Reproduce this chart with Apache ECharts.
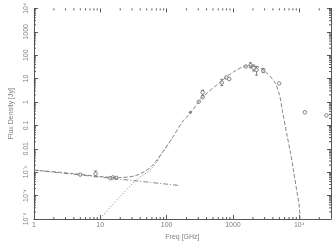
<!DOCTYPE html>
<html><head><meta charset="utf-8">
<script src="https://cdn.jsdelivr.net/npm/echarts@6/dist/echarts.min.js"></script>
<style>html,body{margin:0;padding:0;background:#fff}#c{width:332px;height:246px}</style>
</head><body><div id="c"></div>
<script>
// Axis tick labels
const xTickValues = [1, 10, 100, 1000, 10000];
const xTickLabels = ['1', '10', '100', '1000', '10\u2074'];
const yTickValues = [1e-5, 1e-4, 1e-3, 0.01, 0.1, 1, 10, 100, 1000, 1e4];
const yTickLabels = ['10\u207B\u2075', '10\u207B\u2074', '10\u207B\u00B3', '0.01', '0.1', '1', '10', '100', '1000', '10\u2074'];

// Observed points (GHz, Jy)
const obsFreq = [5.0, 8.5, 14.3, 15.5, 17.4, 305, 349, 349, 678, 795, 879, 1556, 1836, 2050, 2265, 2860, 4977, 12130, 25600];
const obsFlux = [7.9e-4, 8.5e-4, 5.5e-4, 6.0e-4, 5.7e-4, 1.03, 2.57, 1.6, 6.8, 11.1, 9.6, 32.8, 37, 28.5, 23.6, 21.9, 6.2, 0.364, 0.267];
// Filled point
const detFreq = [228];
const detFlux = [0.364];
// Error bars (GHz, low Jy, high Jy)
const errFreq = [8.5, 349, 678, 1836, 2050, 2265, 2860];
const errLow  = [6.4e-4, 1.9, 5.0, 29, 21, 14, 18];
const errHigh = [1.13e-3, 3.2, 9.3, 48, 38, 32, 27];

// Model curves
const totalFreq = [1, 3.7, 10.2, 19.6, 32, 42.5, 59, 87, 122, 180, 224, 340, 680, 1020, 1640, 2190, 3020, 4220, 5010, 5560, 6560, 7320, 8190, 9130, 9860, 10200, 10300];
const totalFlux = [1.23e-3, 8.9e-4, 6.5e-4, 5.9e-4, 6.8e-4, 9.3e-4, 1.74e-3, 7.2e-3, 0.0295, 0.166, 0.31, 1.5, 8, 19.5, 35, 34.4, 20.5, 7.3, 2.07, 0.43, 0.035, 7.2e-3, 1.1e-3, 1.65e-4, 4.7e-5, 1.3e-5, 5e-6];
const syncFreq = [1, 158];
const syncFlux = [1.23e-3, 2.7e-4];
const dustFreq = [10.07, 19.6, 35.5, 59, 87, 122];
const dustFlux = [1.1e-5, 8.7e-5, 4.9e-4, 1.38e-3, 6.9e-3, 0.029];

const X_MIN = 1, X_MAX = 30000, Y_MIN = 1e-5, Y_MAX = 1e4;
const AXIS = '#555', TXT = '#808080', LINE = '#858585', MARK = '#666';
const FONT = 'Liberation Sans';

// minor tick values (2..9 x 10^n), axis decoration
const xMinor = [], yMinor = [];
for (let n = 0; n <= 4; n++) for (let k = 2; k <= 9; k++) { const v = k * Math.pow(10, n); if (v < X_MAX) xMinor.push([v, 1]); }
for (let n = -5; n <= 3; n++) for (let k = 2; k <= 9; k++) { yMinor.push([1, k * Math.pow(10, n)]); }

function lab(values, labels) {
  return function (v) {
    const lv = Math.log10(v);
    for (let i = 0; i < values.length; i++) if (Math.abs(Math.log10(values[i]) - lv) < 0.01) return labels[i];
    return '';
  };
}
const zip = (a, b) => a.map((v, i) => [v, b[i]]);

const chart = echarts.init(document.getElementById('c'), null, { renderer: 'canvas' });
const baseTick = { show: true, inside: true, length: 4, lineStyle: { color: AXIS, width: 1 } };
chart.setOption({
  animation: false,
  backgroundColor: '#fff',
  grid: { left: 20, right: 1, top: 3.5, bottom: 23.5, containLabel: false },
  xAxis: [{
    type: 'log', logBase: 10, min: X_MIN, max: X_MAX, splitNumber: 5, position: 'bottom',
    axisLine: { show: true, onZero: false, lineStyle: { color: AXIS, width: 1 } },
    axisTick: baseTick,
    axisLabel: { show: true, margin: 3, fontSize: 7, color: TXT, fontFamily: FONT, formatter: lab(xTickValues, xTickLabels), showMaxLabel: false },
    splitLine: { show: false },
    name: 'Freq [GHz]', nameLocation: 'middle', nameGap: 15,
    nameTextStyle: { fontSize: 7, color: TXT, fontFamily: FONT }
  }, {
    type: 'log', logBase: 10, min: X_MIN, max: X_MAX, splitNumber: 5, position: 'top',
    axisLine: { show: false, onZero: false }, axisTick: baseTick, axisLabel: { show: false }, splitLine: { show: false }
  }],
  yAxis: [{
    type: 'log', logBase: 10, min: Y_MIN, max: Y_MAX, splitNumber: 9, position: 'left',
    axisLine: { show: true, onZero: false, lineStyle: { color: AXIS, width: 1 } },
    axisTick: baseTick,
    axisLabel: { show: true, rotate: 90, margin: 4, fontSize: 7, color: TXT, fontFamily: FONT, formatter: lab(yTickValues, yTickLabels) },
    splitLine: { show: false },
    name: 'Flux Density [Jy]', nameLocation: 'middle', nameGap: 12, nameRotate: 90,
    nameTextStyle: { fontSize: 7, color: TXT, fontFamily: FONT }
  }, {
    type: 'log', logBase: 10, min: Y_MIN, max: Y_MAX, splitNumber: 9, position: 'right',
    axisLine: { show: true, onZero: false, lineStyle: { color: AXIS, width: 1 } },
    axisTick: baseTick, axisLabel: { show: false }, splitLine: { show: false }
  }],
  series: [
    {
      type: 'custom', name: 'xminor', xAxisIndex: 0, yAxisIndex: 0, silent: true, clip: false,
      data: xMinor,
      renderItem: function (params, api) {
        const x = api.value(0);
        const pb = api.coord([x, Y_MIN]);
        const pt = api.coord([x, Y_MAX]);
        return { type: 'group', children: [
          { type: 'line', shape: { x1: pb[0], y1: pb[1], x2: pb[0], y2: pb[1] - 2 }, style: { stroke: AXIS, lineWidth: 1 } },
          { type: 'line', shape: { x1: pt[0], y1: pt[1], x2: pt[0], y2: pt[1] + 2 }, style: { stroke: AXIS, lineWidth: 1 } }
        ] };
      }
    },
    {
      type: 'custom', name: 'yminor', xAxisIndex: 0, yAxisIndex: 0, silent: true, clip: false,
      data: yMinor,
      renderItem: function (params, api) {
        const y = api.value(1);
        const pl = api.coord([X_MIN, y]);
        const pr = api.coord([X_MAX, y]);
        return { type: 'group', children: [
          { type: 'line', shape: { x1: pl[0], y1: pl[1], x2: pl[0] + 2, y2: pl[1] }, style: { stroke: AXIS, lineWidth: 1 } },
          { type: 'line', shape: { x1: pr[0], y1: pr[1], x2: pr[0] - 2, y2: pr[1] }, style: { stroke: AXIS, lineWidth: 1 } }
        ] };
      }
    },
    {
      type: 'line', name: 'total', data: zip(totalFreq, totalFlux), smooth: 0.3, symbol: 'none', clip: true,
      lineStyle: { color: LINE, width: 1, type: [4, 2] }
    },
    {
      type: 'line', name: 'sync', data: zip(syncFreq, syncFlux), symbol: 'none',
      lineStyle: { color: LINE, width: 1, type: [5, 2, 1, 2] }
    },
    {
      type: 'line', name: 'dust', data: zip(dustFreq, dustFlux), smooth: 0.3, symbol: 'none',
      lineStyle: { color: LINE, width: 1, type: [1, 2] }
    },
    {
      type: 'custom', name: 'err', silent: true,
      data: errFreq.map((f, i) => [f, errLow[i], errHigh[i]]),
      renderItem: function (params, api) {
        const a = api.coord([api.value(0), api.value(1)]);
        const b = api.coord([api.value(0), api.value(2)]);
        return { type: 'group', children: [
          { type: 'line', shape: { x1: a[0], y1: a[1], x2: b[0], y2: b[1] }, style: { stroke: MARK, lineWidth: 0.8 } },
          { type: 'line', shape: { x1: a[0] - 1.5, y1: a[1], x2: a[0] + 1.5, y2: a[1] }, style: { stroke: MARK, lineWidth: 0.8 } },
          { type: 'line', shape: { x1: b[0] - 1.5, y1: b[1], x2: b[0] + 1.5, y2: b[1] }, style: { stroke: MARK, lineWidth: 0.8 } }
        ] };
      }
    },
    {
      type: 'scatter', name: 'obs', data: zip(obsFreq, obsFlux), symbol: 'circle', symbolSize: 3.5,
      itemStyle: { color: '#fff', borderColor: MARK, borderWidth: 0.8, opacity: 1 }
    },
    {
      type: 'scatter', name: 'det', data: zip(detFreq, detFlux), symbol: 'circle', symbolSize: 3,
      itemStyle: { color: MARK }
    }
  ]
});
</script>
</body></html>
